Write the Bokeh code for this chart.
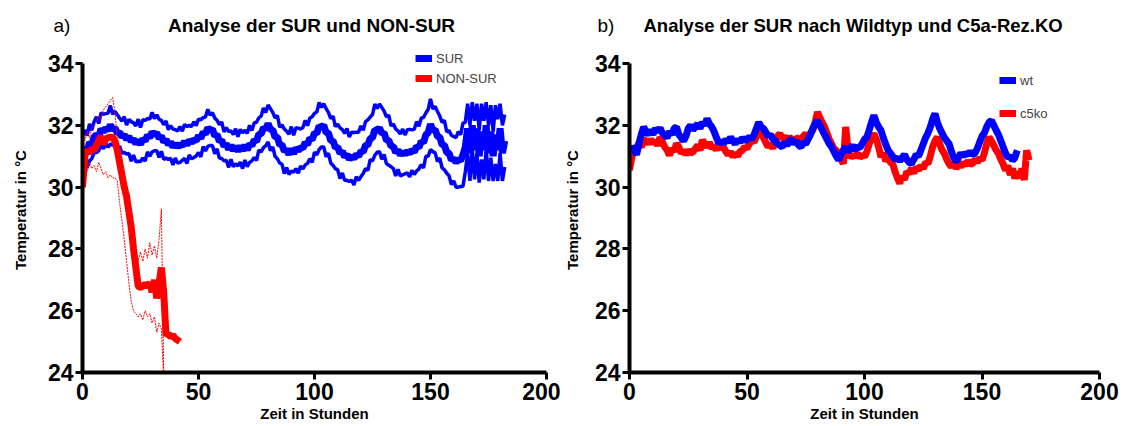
from bokeh.plotting import figure
from bokeh.layouts import row, column
from bokeh.models import FixedTicker, Legend, LegendItem, Label, Range1d
from bokeh.embed import file_html
from bokeh.resources import INLINE

FONT = "Liberation Sans"

# ---------------- data ----------------
x_ticks = [0, 50, 100, 150, 200]
y_ticks = [24, 26, 28, 30, 32, 34]

# Panel a) SUR: mean temperature per hour and its spread
sur_mean = [
    30.90, 31.30, 31.15, 31.45, 31.38, 31.62, 31.70, 31.62, 31.88, 31.80,
    31.90, 31.84, 32.02, 31.86, 31.92, 31.74, 31.78, 31.62, 31.70, 31.54,
    31.64, 31.48, 31.56, 31.40, 31.52, 31.38, 31.56, 31.50, 31.68, 31.60,
    31.78, 31.70, 31.76, 31.58, 31.66, 31.46, 31.54, 31.38, 31.46, 31.30,
    31.40, 31.30, 31.38, 31.34, 31.48, 31.36, 31.52, 31.44, 31.54, 31.50,
    31.66, 31.58, 31.78, 31.72, 31.92, 31.84, 31.88, 31.66, 31.70, 31.48,
    31.52, 31.32, 31.40, 31.22, 31.36, 31.18, 31.32, 31.16, 31.34, 31.18,
    31.36, 31.20, 31.40, 31.34, 31.52, 31.48, 31.72, 31.72, 31.92, 31.88,
    32.06, 31.86, 31.86, 31.62, 31.62, 31.36, 31.38, 31.16, 31.22, 31.06,
    31.24, 31.08, 31.26, 31.18, 31.28, 31.26, 31.44, 31.38, 31.58, 31.54,
    31.76, 31.74, 31.98, 31.94, 32.00, 31.76, 31.76, 31.50, 31.50, 31.28,
    31.30, 31.10, 31.16, 30.98, 31.06, 30.90, 31.00, 30.92, 31.06, 31.00,
    31.16, 31.14, 31.36, 31.36, 31.58, 31.60, 31.86, 31.84, 31.92, 31.74,
    31.76, 31.52, 31.52, 31.32, 31.32, 31.12, 31.20, 31.04, 31.14, 31.06,
    31.16, 31.10, 31.20, 31.14, 31.32, 31.28, 31.48, 31.44, 31.70, 31.76,
    32.04, 31.84, 31.86, 31.64, 31.62, 31.36, 31.36, 31.12, 31.10, 30.88,
    30.92, 30.80, 30.90, 30.86, 31.05, 31.30, 31.90, 31.10, 32.00, 31.20,
    31.90, 31.00, 31.80, 31.20, 32.00, 31.10, 31.80, 31.00, 31.70, 31.20,
    31.90, 31.10, 31.50,
]
sur_sd = [
    0.75, 0.55, 0.52, 0.60, 0.46, 0.50, 0.58, 0.44, 0.52, 0.56,
    0.48, 0.55, 0.62, 0.50, 0.53, 0.60, 0.45, 0.52, 0.58, 0.47,
    0.55, 0.64, 0.52, 0.58, 0.68, 0.55, 0.62, 0.66, 0.54, 0.60,
    0.64, 0.52, 0.58, 0.62, 0.50, 0.56, 0.60, 0.48, 0.53, 0.58,
    0.46, 0.52, 0.58, 0.47, 0.55, 0.60, 0.48, 0.52, 0.58, 0.49,
    0.54, 0.60, 0.47, 0.55, 0.60, 0.49, 0.53, 0.58, 0.46, 0.54,
    0.59, 0.47, 0.53, 0.58, 0.46, 0.52, 0.57, 0.47, 0.53, 0.58,
    0.48, 0.54, 0.60, 0.49, 0.56, 0.62, 0.52, 0.58, 0.64, 0.54,
    0.60, 0.68, 0.56, 0.62, 0.70, 0.58, 0.64, 0.72, 0.59, 0.65,
    0.72, 0.60, 0.66, 0.73, 0.60, 0.67, 0.72, 0.61, 0.66, 0.74,
    0.63, 0.69, 0.76, 0.64, 0.70, 0.78, 0.66, 0.72, 0.80, 0.68,
    0.74, 0.82, 0.70, 0.76, 0.84, 0.72, 0.78, 0.85, 0.72, 0.78,
    0.82, 0.70, 0.76, 0.82, 0.69, 0.75, 0.83, 0.71, 0.77, 0.84,
    0.70, 0.76, 0.81, 0.66, 0.72, 0.76, 0.62, 0.68, 0.74, 0.63,
    0.70, 0.77, 0.66, 0.73, 0.80, 0.69, 0.75, 0.82, 0.70, 0.76,
    0.82, 0.69, 0.75, 0.81, 0.68, 0.74, 0.80, 0.67, 0.73, 0.80,
    0.72, 0.80, 0.90, 0.84, 1.02, 0.80, 0.80, 0.90, 0.75, 0.95,
    0.80, 0.85, 0.90, 0.95, 0.75, 0.90, 0.85, 0.80, 0.95, 1.00,
    0.80, 0.90, 0.85,
]
sur_hours = list(range(len(sur_mean)))

# Panel a) NON-SUR: mean and upper / lower spread lines
nonsur_mean = [
    30.00, 31.00, 31.20, 31.10, 31.25, 31.20, 31.35, 31.50, 31.65, 31.40,
    31.55, 31.60, 31.62, 31.60, 31.50, 31.20, 30.80, 30.40, 30.00, 29.70,
    29.20, 28.70, 28.00, 27.40, 26.80, 26.75, 26.80, 26.85, 26.80, 26.90,
    26.60, 27.00, 26.40, 26.90, 27.40, 26.60, 25.20, 25.25, 25.15, 25.20,
    25.10, 25.05, 25.00,
]
nonsur_hours = list(range(len(nonsur_mean)))
nonsur_upper = [
    31.90, 31.50, 31.80, 31.60, 31.90, 32.00, 32.10, 32.30, 32.20, 32.50,
    32.60, 32.70, 32.80, 32.90, 32.40, 31.60, 30.80, 30.30, 29.90, 29.50,
    29.00, 28.60, 28.20, 27.80, 27.60, 27.90, 27.60, 28.00, 27.70, 28.20,
    27.80, 28.10, 27.70, 28.30, 29.30, 24.00,
]
nonsur_lower = [
    29.80, 30.60, 30.50, 30.80, 30.60, 30.70, 30.50, 30.80, 30.60, 30.40,
    30.50, 30.30, 30.40, 30.30, 30.30, 30.20, 29.50, 28.90, 28.30, 27.60,
    26.90, 26.30, 26.00, 25.90, 25.80, 25.90, 25.70, 26.00, 25.80, 25.90,
    25.60, 25.80, 25.30, 25.60, 25.40, 23.80,
]
band_hours = list(range(len(nonsur_upper)))

# Panel b) wild type and C5a-receptor KO
wt_mean = [
    31.15, 31.30, 31.20, 31.05, 31.40, 31.70, 31.95, 31.80, 31.70, 31.85,
    31.70, 31.90, 31.80, 31.92, 31.75, 31.68, 31.60, 31.80, 31.70, 31.90,
    31.95, 31.70, 31.60, 31.50, 31.65, 31.90, 32.00, 31.85, 31.95, 32.05,
    31.90, 32.10, 32.00, 32.22, 32.05, 31.95, 31.80, 31.60, 31.42, 31.50,
    31.40, 31.55, 31.45, 31.62, 31.50, 31.40, 31.55, 31.45, 31.60, 31.50,
    31.55, 31.62, 31.55, 31.70, 31.90, 32.10, 31.95, 31.90, 31.78, 31.65,
    31.70, 31.55, 31.50, 31.40, 31.35, 31.30, 31.45, 31.35, 31.50, 31.55,
    31.40, 31.50, 31.35, 31.30, 31.45, 31.40, 31.55, 31.70, 31.90, 32.05,
    32.16, 32.00, 31.85, 31.70, 31.55, 31.40, 31.30, 31.15, 31.00, 30.88,
    31.05, 31.20, 31.30, 31.15, 31.25, 31.35, 31.20, 31.30, 31.28, 31.40,
    31.55, 31.62, 31.85, 32.10, 32.32, 32.10, 31.95, 31.84, 31.60, 31.40,
    31.20, 31.10, 31.00, 30.90, 30.95, 30.85, 30.95, 31.05, 30.90, 30.80,
    30.76, 30.90, 31.05, 31.00, 31.20, 31.40, 31.60, 31.75, 31.95, 32.20,
    32.38, 32.10, 31.90, 31.75, 31.60, 31.50, 31.40, 31.15, 30.95, 30.82,
    30.95, 31.10, 31.00, 31.10, 31.05, 31.15, 31.05, 31.10, 31.25, 31.45,
    31.65, 31.75, 31.95, 32.10, 32.16, 32.00, 31.84, 31.70, 31.50, 31.30,
    31.10, 30.95, 31.00, 30.87, 30.95, 31.19,
]
wt_hours = list(range(len(wt_mean)))
c5ko_mean = [
    30.55, 30.98, 31.20, 31.30, 31.41, 31.30, 31.50, 31.52, 31.40, 31.55,
    31.41, 31.50, 31.35, 31.62, 31.45, 31.30, 31.20, 31.03, 31.25, 31.15,
    31.41, 31.30, 31.10, 31.19, 31.05, 31.20, 31.10, 31.14, 31.25, 31.35,
    31.20, 31.52, 31.40, 31.30, 31.45, 31.25, 31.35, 31.20, 31.40, 31.25,
    31.30, 31.15, 31.05, 31.15, 30.98, 31.10, 31.00, 31.15, 31.19, 31.30,
    31.25, 31.40, 31.52, 31.45, 31.65, 31.75, 31.84, 31.60, 31.45, 31.30,
    31.40, 31.25, 31.55, 31.65, 31.73, 31.55, 31.65, 31.50, 31.62, 31.55,
    31.45, 31.60, 31.57, 31.50, 31.65, 31.73, 31.60, 31.75, 31.84, 32.10,
    32.43, 32.25, 32.10, 31.95, 31.75, 31.55, 31.40, 31.25, 31.19, 31.00,
    30.90, 30.76, 31.95, 31.20, 30.95, 31.05, 30.98, 31.10, 30.95, 31.05,
    30.98, 31.15, 31.40, 31.60, 31.73, 31.55, 31.30, 30.98, 31.10, 30.85,
    30.95, 30.80, 30.76, 30.50, 30.30, 30.12, 30.35, 30.25, 30.50, 30.44,
    30.60, 30.45, 30.65, 30.55, 30.70, 30.60, 30.80, 30.76, 31.00, 31.30,
    31.50, 31.62, 31.40, 31.20, 31.09, 30.90, 30.75, 30.66, 30.80, 30.60,
    30.75, 30.66, 30.80, 30.70, 30.85, 30.75, 30.76, 30.90, 30.80, 30.95,
    30.87, 31.10, 31.40, 31.62, 31.50, 31.35, 31.20, 31.09, 30.90, 30.75,
    30.55, 30.70, 30.40, 30.60, 30.28, 30.50, 30.30, 30.60, 30.23, 31.19,
    30.87,
]
c5ko_hours = list(range(len(c5ko_mean)))

sur_upper = [m + s for m, s in zip(sur_mean, sur_sd)]
sur_lower = [m - s for m, s in zip(sur_mean, sur_sd)]

BLUE = "#0000ff"
RED = "#ff0000"

Y_TOP = 34.52   # frame reaches a little above the axis so the legend fits inside


def style(p, ylabel_standoff):
    p.xaxis.ticker = FixedTicker(ticks=x_ticks)
    p.yaxis.ticker = FixedTicker(ticks=y_ticks)
    p.yaxis.bounds = (24, 34)
    p.grid.visible = False
    p.outline_line_color = None
    for ax in (p.xaxis[0], p.yaxis[0]):
        ax.axis_line_width = 4
        ax.major_tick_line_width = 3
        ax.major_tick_out = 7
        ax.major_tick_in = 0
        ax.minor_tick_line_color = None
        ax.major_label_text_font = FONT
        ax.major_label_text_font_style = "bold"
        ax.major_label_text_font_size = "23px"
        ax.major_label_text_color = "black"
        ax.axis_label_text_font = FONT
        ax.axis_label_text_font_style = "bold"
        ax.axis_label_text_font_size = "15px"
        ax.axis_label_text_color = "black"
    p.xaxis.axis_label = "Zeit in Stunden"
    p.yaxis.axis_label = "Temperatur in °C"
    p.xaxis.major_label_standoff = 3
    p.yaxis.major_label_standoff = 2
    p.xaxis.axis_label_standoff = 2
    p.yaxis.axis_label_standoff = ylabel_standoff


# ---------------- header with panel titles ----------------
hdr = figure(width=1133, height=45, output_backend="svg", toolbar_location=None,
             x_range=Range1d(0, 1133), y_range=Range1d(0, 45),
             x_axis_type=None, y_axis_type=None, min_border=0)
hdr.outline_line_color = None
hdr.grid.visible = False
for txt, xx, bold, align, size in [("a)", 53, False, "left", "19px"),
                                   ("Analyse der SUR und NON-SUR", 311, True, "center", "19px"),
                                   ("b)", 597, False, "left", "19px"),
                                   ("Analyse der SUR nach Wildtyp und C5a-Rez.KO", 643, True, "left", "18.5px")]:
    hdr.add_layout(Label(x=xx, y=20, text=txt, text_font=FONT, text_font_size=size,
                         text_font_style="bold" if bold else "normal",
                         text_align=align, text_baseline="middle", text_color="black"))

# ---------------- panel a ----------------
pa = figure(width=560, height=381, output_backend="svg", toolbar_location=None,
            x_range=Range1d(0, 200), y_range=Range1d(24, Y_TOP),
            min_border_left=82, min_border_right=14, min_border_top=2,
            min_border_bottom=54)
style(pa, 16)

pa.line(sur_hours, sur_upper, line_color=BLUE, line_width=3.5)
pa.line(sur_hours, sur_lower, line_color=BLUE, line_width=3.5)
r_sur = pa.line(sur_hours, sur_mean, line_color=BLUE, line_width=7)
pa.line(band_hours, nonsur_upper, line_color=RED, line_width=1, line_dash="2 1")
pa.line(band_hours, nonsur_lower, line_color=RED, line_width=1, line_dash="2 1")
r_non = pa.line(nonsur_hours, nonsur_mean, line_color=RED, line_width=7)

leg_a = Legend(items=[LegendItem(label="SUR", renderers=[r_sur]),
                      LegendItem(label="NON-SUR", renderers=[r_non])],
               location=(333, 286), orientation="vertical",
               glyph_width=17, glyph_height=16, label_height=16, spacing=4,
               label_standoff=4, padding=0, margin=0,
               label_text_font=FONT, label_text_font_size="13px",
               background_fill_alpha=0, border_line_alpha=0)
pa.add_layout(leg_a)

# ---------------- panel b ----------------
pb = figure(width=573, height=381, output_backend="svg", toolbar_location=None,
            x_range=Range1d(0, 200), y_range=Range1d(24, Y_TOP),
            min_border_left=68, min_border_right=34, min_border_top=2,
            min_border_bottom=54)
style(pb, 11)

r_c5 = pb.line(c5ko_hours, c5ko_mean, line_color=RED, line_width=7)
r_wt = pb.line(wt_hours, wt_mean, line_color=BLUE, line_width=7)

leg_b = Legend(items=[LegendItem(label="wt", renderers=[r_wt]),
                      LegendItem(label="c5ko", renderers=[r_c5])],
               location=(370, 251), orientation="vertical",
               glyph_width=17, glyph_height=16, label_height=16, spacing=17,
               label_standoff=4, padding=0, margin=0,
               label_text_font=FONT, label_text_font_size="13px",
               background_fill_alpha=0, border_line_alpha=0)
pb.add_layout(leg_b)

layout = column(hdr, row(pa, pb))
open("out.html", "w").write(file_html(layout, INLINE))
